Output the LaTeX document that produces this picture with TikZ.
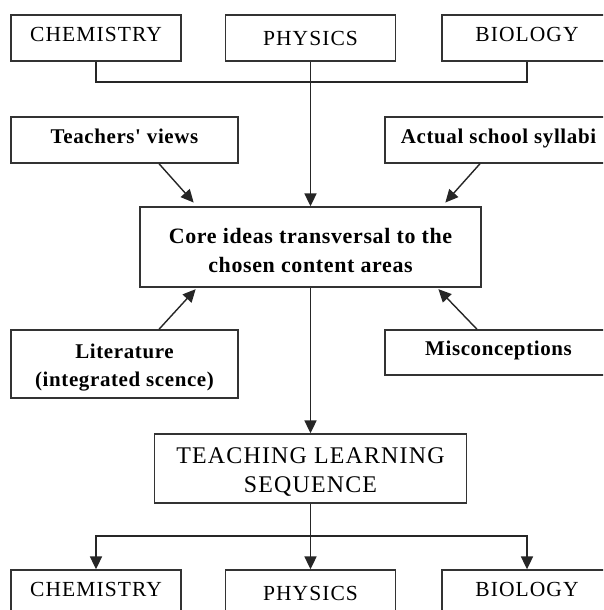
\documentclass[tikz,border=0pt]{standalone}
\usepackage{fontspec}
\setmainfont{Liberation Serif}
\newfontfamily\capsfont[LetterSpace=5]{Liberation Serif}
\newfontfamily\ideafont[LetterSpace=3]{Liberation Serif}
\usetikzlibrary{arrows.meta,positioning}

\begin{document}
\begin{tikzpicture}[
  subjbox/.style={draw=black!80,line width=1pt,minimum width=4.25cm,minimum height=1.15cm,
    inner sep=2pt,text height=10pt,text depth=5pt,font=\capsfont\fontsize{15.3}{18}\selectfont},
  sourcebox/.style={draw=black!80,line width=1pt,minimum width=5.675cm,align=center,
    inner sep=2pt,font=\ideafont\bfseries\fontsize{14.9}{19.9}\selectfont},
  oneline/.style={text height=10.5pt,text depth=6pt},
  link/.style={line width=1pt,draw=black!85},
  linkarr/.style={link,-{Triangle[length=0.32cm,width=0.3cm]}}
]
  \useasboundingbox (0,0) rectangle (15.075,15.25);
  \clip (0,0) rectangle (15.075,15.25);

  \node[subjbox] (chemtop) at (2.4,14.3) {CHEMISTRY};
  \node[subjbox,text depth=0pt] (phystop) at (7.7625,14.3) {PHYSICS};
  \node[subjbox] (biotop) at (13.175,14.3) {BIOLOGY};

  \node[sourcebox,oneline,minimum height=1.15cm] (teachers) at (3.1125,11.75) {Teachers' views};
  \node[sourcebox,oneline,minimum height=1.15cm] (syllabi) at (12.4625,11.75) {Actual school syllabi};

  \node[sourcebox,minimum width=8.525cm,minimum height=2.0cm,
    font=\ideafont\bfseries\fontsize{15.6}{20.6}\selectfont] (core) at (7.7625,9.075)
    {\rule{0pt}{16.3pt}Core ideas transversal to the\\chosen content areas};

  \node[sourcebox,minimum height=1.7cm] (literature) at (3.1125,6.15)
    {\rule{0pt}{15.7pt}Literature\\(integrated scence)};
  \node[sourcebox,oneline,minimum height=1.125cm] (misconc) at (12.4625,6.4375) {Misconceptions};

  \node[draw=black!80,line width=1pt,minimum width=7.8cm,minimum height=1.725cm,align=center,
    font=\capsfont\fontsize{17}{20.6}\selectfont] (tls) at (7.7625,3.5375)
    {\rule{0pt}{16.3pt}TEACHING LEARNING\\SEQUENCE};

  \node[subjbox] (chembot) at (2.4,0.425) {CHEMISTRY};
  \node[subjbox,text depth=0pt] (physbot) at (7.7625,0.425) {PHYSICS};
  \node[subjbox] (biobot) at (13.175,0.425) {BIOLOGY};

  \coordinate (topjoin) at (7.7625,13.2);
  \coordinate (botjoin) at (7.7625,1.85);

  \draw[link] (chemtop.south) |- (topjoin) -| (biotop.south);
  \draw[linkarr] (phystop.south) -- (core.north);
  \draw[linkarr,shorten >=0.125cm] ([xshift=0.8625cm]teachers.south) -- ([xshift=-2.8375cm]core.north);
  \draw[linkarr,shorten >=0.125cm] ([xshift=-0.4625cm]syllabi.south) -- ([xshift=3.2875cm]core.north);
  \draw[linkarr,shorten >=0.05cm] ([xshift=0.8625cm]literature.north) -- ([xshift=-2.8375cm]core.south);
  \draw[linkarr,shorten >=0.05cm] ([xshift=-0.5375cm]misconc.north) -- ([xshift=3.1625cm]core.south);
  \draw[linkarr] (core.south) -- (tls.north);
  \draw[linkarr] (tls.south) -- (physbot.north);
  \draw[linkarr] (botjoin) -| (chembot.north);
  \draw[linkarr] (botjoin) -| (biobot.north);
\end{tikzpicture}
\end{document}
